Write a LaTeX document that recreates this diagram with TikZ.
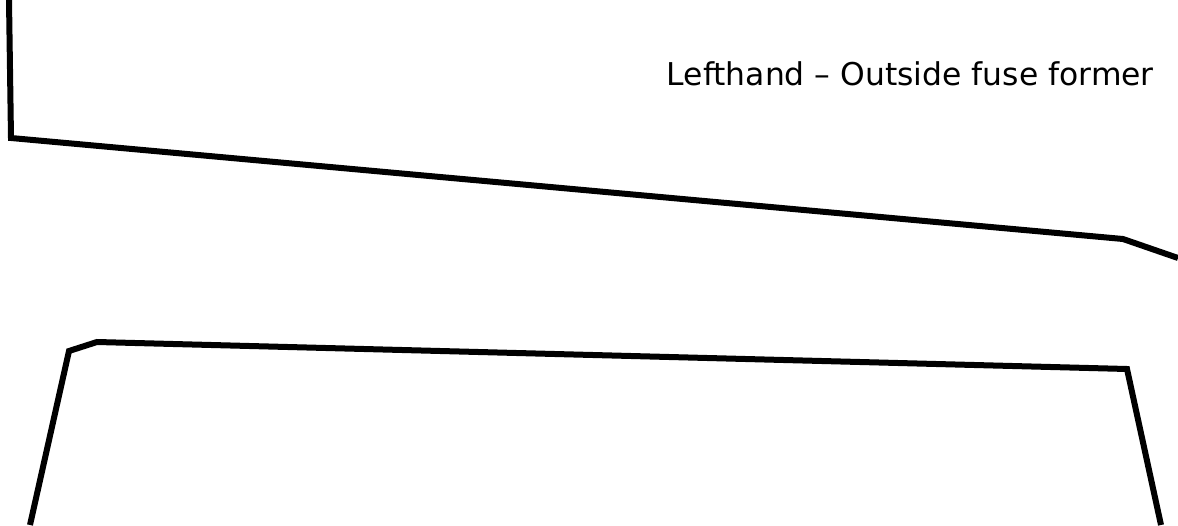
\documentclass[tikz,border=0pt]{standalone}
\usepackage{fontspec}
\setmainfont{DejaVu Sans}
\begin{document}
\begin{tikzpicture}[x=1pt,y=-1pt,line join=miter]
	\useasboundingbox (0,0) rectangle (1178,525);
	\tikzset{outline/.style={line width=6pt}}
	\draw[outline] (9,0) -- (11,138) -- (1123,239) -- (1178,258);
	\draw[outline] (30,525) -- (69,351) -- (97,342) -- (1127,369) -- (1161,525);
	\node[anchor=base east,inner sep=0pt,font=\fontsize{31.4}{36}\selectfont] (title) at (1154,85) {Lefthand – Outside fuse former};
\end{tikzpicture}
\end{document}
